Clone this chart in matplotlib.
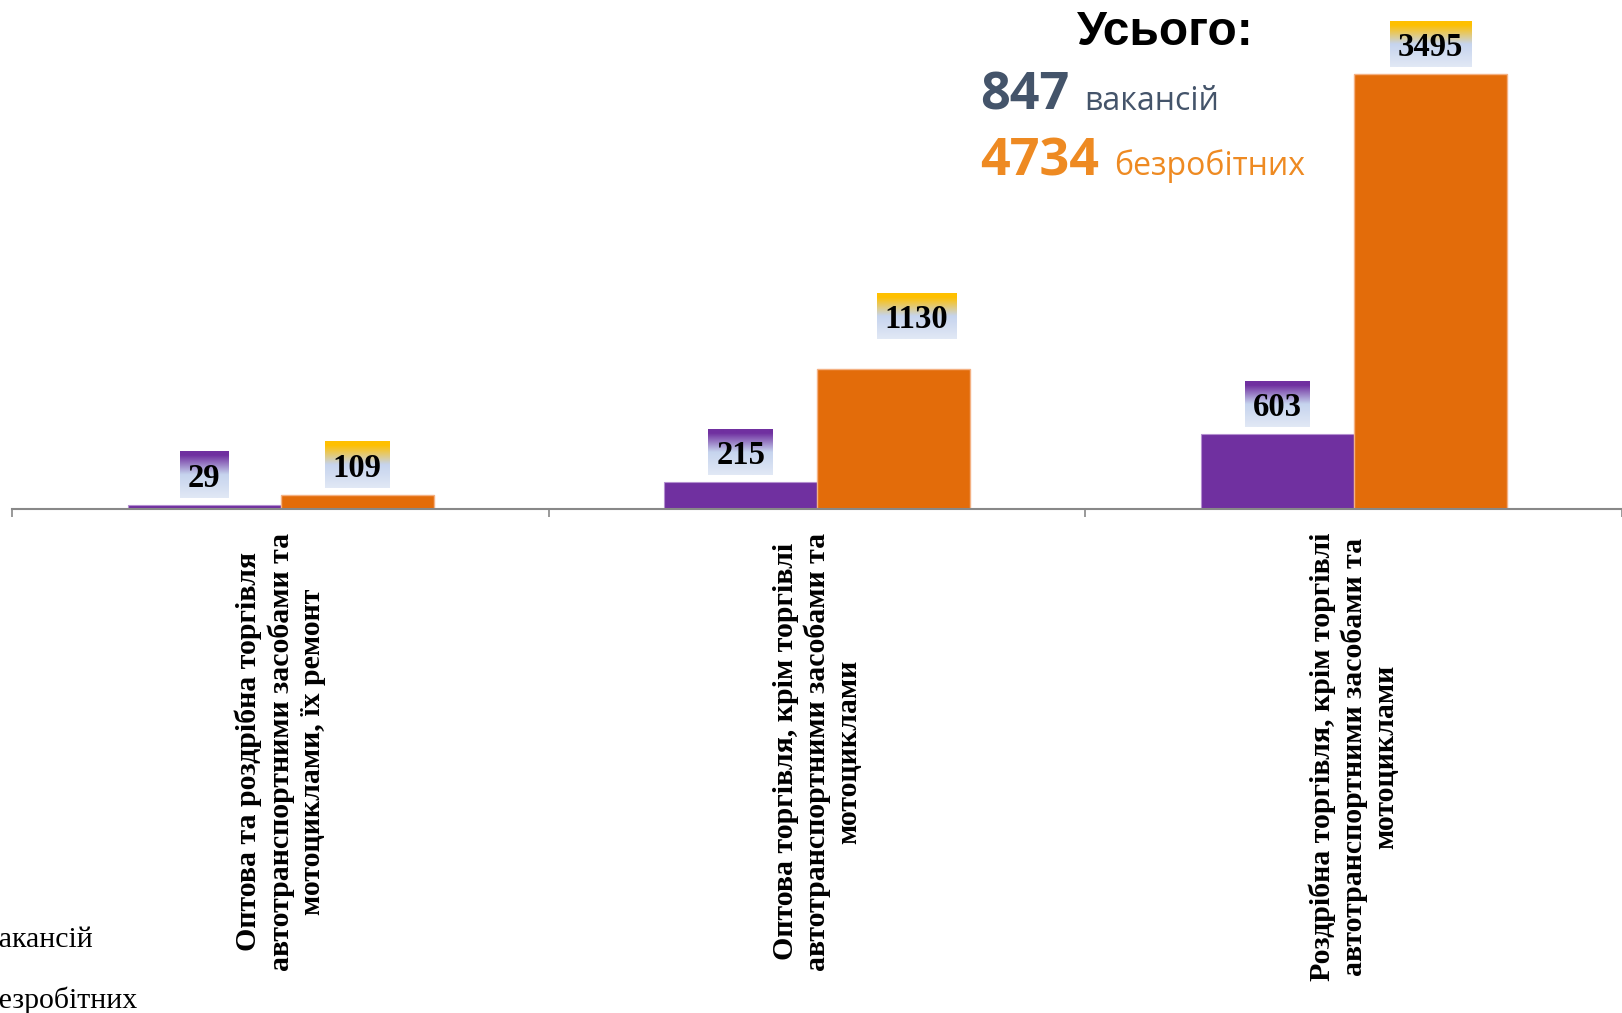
import numpy as np
import matplotlib
matplotlib.use("Agg")
import matplotlib.pyplot as plt
from matplotlib.colors import to_rgb

# ---- data ----
categories = [
    "Оптова та роздрібна торгівля\nавтотранспортними засобами та\nмотоциклами, їх ремонт",
    "Оптова торгівля, крім торгівлі\nавтотранспортними засобами та\nмотоциклами",
    "Роздрібна торгівля, крім торгівлі\nавтотранспортними засобами та\nмотоциклами",
]
vacancies = [29, 215, 603]
unemployed = [109, 1130, 3495]
series_names = ["вакансій", "безробітних"]
total_title = "Усього:"
total_vacancies = 847
total_unemployed = 4734

# ---- style ----
PURPLE = "#7030a0"
ORANGE = "#e36c0a"
GOLD = "#ffc000"
SLATE = "#44546a"
ORANGE_TXT = "#ee8a22"
W, H = 1622, 1013
DPI = 100

fig = plt.figure(figsize=(W / DPI, H / DPI), dpi=DPI)
ax_left = 12.4 / W
ax_bottom = (H - 509) / H
ax = fig.add_axes([ax_left, ax_bottom, 1 - ax_left, 1 - ax_bottom])
ax.set_facecolor("none")

x = np.arange(len(categories))
bw = 0.285
b1 = ax.bar(x - bw / 2, vacancies, bw, color=PURPLE, edgecolor="#b48fd0", linewidth=0.8, zorder=2)
b2 = ax.bar(x + bw / 2, unemployed, bw, color=ORANGE, edgecolor="#f4b183", linewidth=1.0, zorder=2)

XLIM = (-0.5, 2.5)
YLIM = (0, 4094)
ax.set_xlim(*XLIM)
ax.set_ylim(*YLIM)

for s in ["top", "right", "left"]:
    ax.spines[s].set_visible(False)
ax.spines["bottom"].set_color("#888888")
ax.spines["bottom"].set_linewidth(1.5)
ax.set_yticks([])
ax.set_xticks(x)
ax.set_xticks([-0.5, 0.5, 1.5, 2.5], minor=True)
ax.tick_params(axis="x", which="major", length=0, pad=17)
ax.tick_params(axis="x", which="minor", length=6, width=1.2, color="#888888", direction="out")
ax.set_xticklabels(categories, rotation=90, ha="center", va="top",
                   fontfamily="Liberation Serif", fontweight="bold", fontsize=21.5,
                   multialignment="center", linespacing=1.22)

# data labels (the 1130 label sits shifted up/right in the original)
label_shift = {(1, 1): (23, 23)}
texts = []
for si, (bars, vals, col) in enumerate([(b1, vacancies, PURPLE), (b2, unemployed, GOLD)]):
    for ci, (rect, v) in enumerate(zip(bars, vals)):
        cx = rect.get_x() + rect.get_width() / 2
        sx, sy = label_shift.get((si, ci), (0, 0))
        t = ax.annotate(str(v), xy=(cx, v), xytext=(sx * 72 / DPI, (18 + sy) * 72 / DPI),
                        textcoords="offset points",
                        ha="center", va="baseline", fontfamily="Liberation Serif",
                        fontweight="bold", fontsize=23.5, color="black", zorder=6)
        texts.append((t, cx, v, col, sx, sy))

fig.canvas.draw()
renderer = fig.canvas.get_renderer()
inv = ax.transData.inverted()

def gradient(top_col, h, w):
    stops = [(0.0, to_rgb(top_col)), (0.08, to_rgb(top_col)), (0.5, to_rgb("#c6d4ee")), (1.0, to_rgb("#e1e8f5"))]
    ys = np.linspace(0, 1, h)
    arr = np.zeros((h, w, 3))
    pos = [s[0] for s in stops]
    for c in range(3):
        vals = [s[1][c] for s in stops]
        arr[:, :, c] = np.interp(ys, pos, vals)[:, None]
    return arr

for t, cx, v, col, sx, sy in texts:
    bb = t.get_window_extent(renderer)
    px, py = ax.transData.transform((cx, v))
    px += sx
    py += sy
    bw_px = bb.width + 16
    y0 = py + 7
    y1 = y0 + 46
    x0 = px - bw_px / 2
    x1 = px + bw_px / 2
    (dx0, dy0) = inv.transform((x0, y0))
    (dx1, dy1) = inv.transform((x1, y1))
    ax.imshow(gradient(col, 46, 4), extent=(dx0, dx1, dy0, dy1), aspect="auto",
              origin="upper", zorder=5, interpolation="bilinear")

ax.set_xlim(*XLIM)
ax.set_ylim(*YLIM)

# totals block
def fx(px):
    return px / W

def fy(py):
    return 1 - py / H

fig.text(fx(1165), fy(45), total_title, ha="center", va="baseline",
         fontfamily="Liberation Sans", fontweight="bold", fontsize=34.5, color="black")
fig.text(fx(980), fy(110), str(total_vacancies), ha="left", va="baseline",
         fontfamily="Open Sans", fontweight="bold", fontsize=37.5, color=SLATE)
fig.text(fx(1084), fy(110), series_names[0], ha="left", va="baseline",
         fontfamily="Open Sans", fontsize=23, color=SLATE)
fig.text(fx(980), fy(175), str(total_unemployed), ha="left", va="baseline",
         fontfamily="Open Sans", fontweight="bold", fontsize=37.5, color=ORANGE_TXT)
fig.text(fx(1114), fy(175), series_names[1], ha="left", va="baseline",
         fontfamily="Open Sans", fontsize=23, color=ORANGE_TXT)

# legend (clipped at the left edge as in the original)
fig.text(fx(-15), fy(947), series_names[0], ha="left", va="baseline",
         fontfamily="Liberation Serif", fontsize=21.5, color="black")
fig.text(fx(-15), fy(1008), series_names[1], ha="left", va="baseline",
         fontfamily="Liberation Serif", fontsize=21.5, color="black")

fig.savefig("out.png", dpi=DPI)
